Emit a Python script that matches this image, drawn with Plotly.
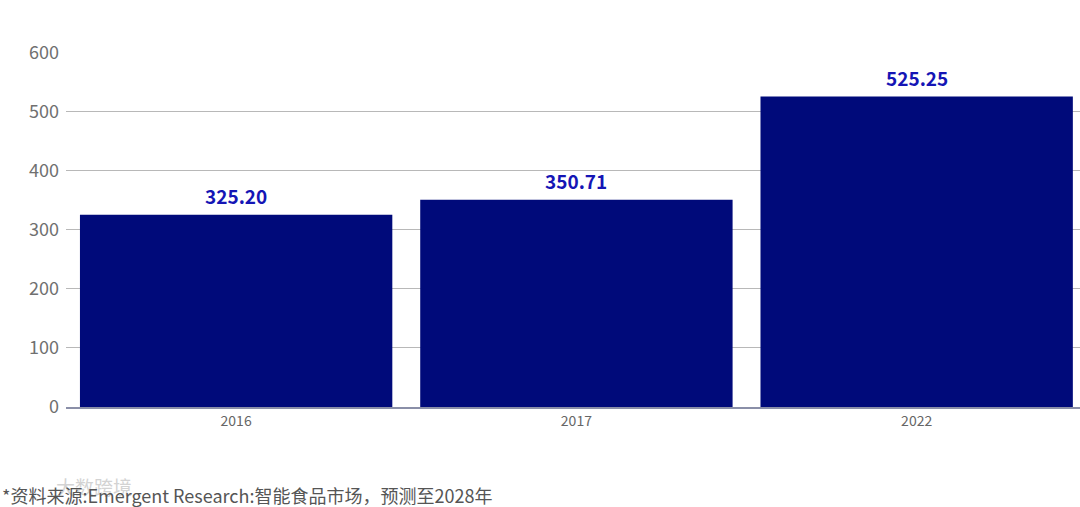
import plotly.graph_objects as go

years = ["2016", "2017", "2022"]
market = [325.20, 350.71, 525.25]
labels = ["325.20", "350.71", "525.25"]

FONT = "Noto Sans CJK SC, Noto Sans, sans-serif"

fig = go.Figure(
    go.Bar(
        x=years,
        y=market,
        marker=dict(color="#000a7a", line=dict(width=0)),
        hoverinfo="x+y",
    )
)

# value labels above each bar (category axis -> use index positions)
notes = [
    dict(
        x=i, y=val, text=lab, xref="x", yref="y",
        yshift=19, showarrow=False, yanchor="middle",
        font=dict(size=19, color="#1515b5", family=FONT, weight="bold"),
    )
    for i, (val, lab) in enumerate(zip(market, labels))
]

notes += [
    dict(
        text="大数跨境",
        xref="paper", yref="paper", x=-0.012, y=-0.225,
        xanchor="left", yanchor="middle", showarrow=False,
        opacity=0.55,
        font=dict(size=19, color="#b0b0b0", family=FONT),
    ),
    dict(
        text="*资料来源:Emergent Research:智能食品市场，预测至2028年",
        xref="paper", yref="paper", x=-0.0651, y=-0.248,
        xanchor="left", yanchor="middle", showarrow=False,
        font=dict(size=18, color="#555555", family=FONT),
    ),
]

fig.update_layout(
    width=1080,
    height=507,
    paper_bgcolor="white",
    plot_bgcolor="white",
    showlegend=False,
    bargap=0.082,
    margin=dict(l=66, r=0, t=52, b=100),
    font=dict(family=FONT, color="#666666"),
    xaxis=dict(
        type="category",
        range=[-0.5, 2.48],
        showgrid=False,
        showline=True,
        linecolor="#8a8fa8",
        linewidth=1.5,
        tickfont=dict(size=14, color="#666666"),
        ticks="",
    ),
    yaxis=dict(
        range=[0, 600.5],
        dtick=100,
        showgrid=True,
        gridcolor="#b8b8b8",
        gridwidth=1,
        zeroline=False,
        tickfont=dict(size=18, color="#707070"),
        ticks="",
        ticklabelstandoff=6,
    ),
    annotations=notes,
)

fig.write_html(
    "out.html",
    config={"displayModeBar": False},
    post_script="document.body.style.margin='0';",
)
